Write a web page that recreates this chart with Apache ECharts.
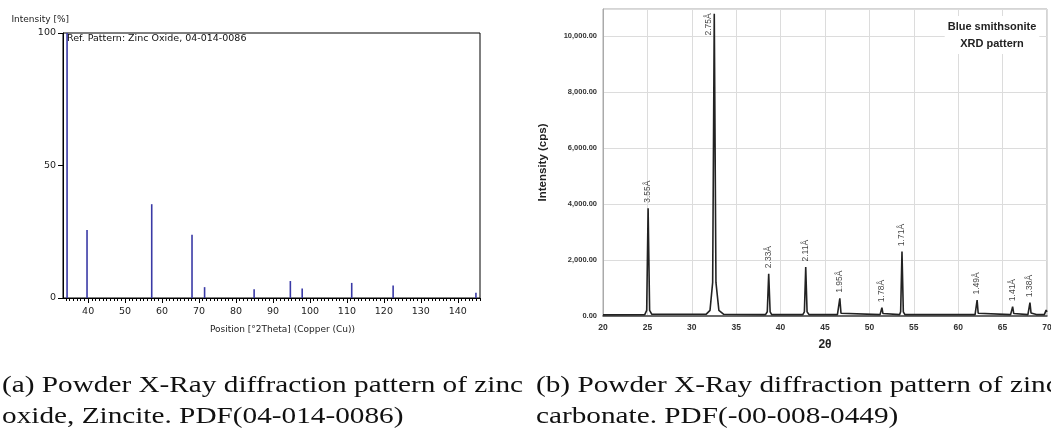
<!DOCTYPE html>
<html>
<head>
<meta charset="utf-8">
<script src="https://cdn.jsdelivr.net/npm/echarts@6/dist/echarts.min.js"></script>
<style>
  html, body { margin: 0; padding: 0; background: #fff; }
  #main { width: 1051px; height: 437px; }
</style>
</head>
<body>
<div id="main"></div>
<script>
// (a) ZnO reference stick pattern
var refPos = [34.3, 39.7, 57.2, 68.1, 71.5, 84.9, 94.7, 97.9, 111.3, 122.5, 144.9];
var refInt = [100, 25.7, 35.4, 23.9, 4.1, 3.3, 6.4, 3.6, 5.7, 4.7, 2.0];
var refTicks = [40, 50, 60, 70, 80, 90, 100, 110, 120, 130, 140];

// (b) smithsonite trace
var twoTheta = [20.0, 24.7, 24.92, 25.08, 25.25, 25.5, 31.6, 32.05, 32.35, 32.53, 32.72, 33.05, 33.6,
  38.3, 38.5, 38.66, 38.82, 39.0, 42.5, 42.68, 42.83, 42.98, 43.2, 46.4, 46.55, 46.67, 46.8, 47.0,
  51.2, 51.3, 51.41, 51.52, 51.7, 53.4, 53.52, 53.67, 53.82, 54.0, 60.9, 61.1, 61.3, 61.9, 62.02,
  62.13, 62.25, 62.4, 65.9, 66.02, 66.13, 66.25, 66.4, 67.85, 67.97, 68.08, 68.2, 68.4, 68.8, 69.0,
  69.2, 69.7, 69.9, 70.0];
var cps = [40, 50, 200, 3846, 200, 60, 60, 200, 1200, 10786, 1200, 200, 60,
  50, 150, 1511, 150, 50, 50, 150, 1750, 150, 50, 50, 100, 632, 100, 50,
  50, 90, 298, 90, 50, 50, 150, 2298, 150, 50, 50, 90, 50, 50, 100,
  571, 100, 50, 50, 90, 333, 90, 50, 50, 110, 476, 110, 50, 50, 110,
  50, 50, 210, 150];
var peakPos = [25.08, 32.53, 38.66, 42.83, 46.67, 51.41, 53.67, 62.13, 66.13, 68.08];
var peakTop = [3846, 10786, 1511, 1750, 632, 298, 2298, 571, 333, 476];
var peakD = ['3.55Å', '2.75Å', '2.33Å', '2.11Å', '1.95Å', '1.78Å', '1.71Å', '1.49Å', '1.41Å', '1.38Å'];

var captionA = ['(a) Powder X-Ray diffraction pattern of zinc', 'oxide, Zincite. PDF(04-014-0086)'];
var captionB = ['(b) Powder X-Ray diffraction pattern of zinc', 'carbonate. PDF(-00-008-0449)'];

var capFont = '23px "Liberation Serif", serif';
// squeeze the serif so the first caption line is as wide as in the picture
var ctx = document.createElement('canvas').getContext('2d');
ctx.font = capFont;
var capScale = 521 / ctx.measureText(captionA[0]).width;

var minorTicks = [];
for (var t = 34; t <= 146; t++) minorTicks.push(t);

var chart = echarts.init(document.getElementById('main'));

function capText(x, y, s) {
  return {
    type: 'text', x: x, y: y, scaleX: capScale,
    style: { text: s, font: capFont, fill: '#111', verticalAlign: 'middle' }
  };
}

var option = {
  animation: false,
  backgroundColor: '#fff',
  grid: [
    { left: 63, top: 33, width: 417, height: 265, show: true, borderColor: '#000', borderWidth: 1, outerBoundsMode: 'none' },
    { left: 603, top: 9, width: 444, height: 307, show: true, borderColor: '#aaa', borderWidth: 1, outerBoundsMode: 'none' }
  ],
  xAxis: [
    {
      type: 'value', gridIndex: 0, position: 'bottom', min: 33.2, max: 146,
      name: 'Position [°2Theta] (Copper (Cu))', nameLocation: 'middle', nameGap: 27,
      nameTextStyle: { fontFamily: 'DejaVu Sans', fontSize: 9, color: '#222', padding: [0, 0, 0, 22] },
      axisLine: { lineStyle: { color: '#000', width: 1 } },
      axisTick: { customValues: refTicks, length: 5, lineStyle: { color: '#000' } },
      axisLabel: { customValues: refTicks, margin: 9, fontFamily: 'DejaVu Sans', fontSize: 9.5, color: '#222' },
      splitLine: { show: false }
    },
    {
      type: 'value', gridIndex: 0, position: 'bottom', min: 33.2, max: 146,
      axisLine: { show: false },
      axisTick: { customValues: minorTicks, length: 3, lineStyle: { color: '#000' } },
      axisLabel: { show: false },
      splitLine: { show: false }
    },
    {
      type: 'value', gridIndex: 1, min: 20, max: 70, interval: 5,
      name: '2θ', nameLocation: 'middle', nameGap: 23,
      nameTextStyle: { fontFamily: 'Liberation Sans', fontWeight: 'bold', fontSize: 12, color: '#222' },
      axisLine: { lineStyle: { color: '#444', width: 1.5 } },
      axisTick: { show: false },
      axisLabel: { margin: 7, fontFamily: 'Liberation Sans', fontWeight: 'bold', fontSize: 8.5, color: '#333' },
      splitLine: { show: true, lineStyle: { color: '#dcdcdc', width: 1 } }
    }
  ],
  yAxis: [
    {
      type: 'value', gridIndex: 0, min: 0, max: 100, interval: 50,
      name: 'Intensity [%]', nameLocation: 'end', nameGap: 9,
      nameTextStyle: { fontFamily: 'DejaVu Sans', fontSize: 9, color: '#222', align: 'right', padding: [0, -6, 0, 0] },
      axisLine: { lineStyle: { color: '#000', width: 1 } },
      axisTick: { length: 5, lineStyle: { color: '#000' } },
      axisLabel: { margin: 7, fontFamily: 'DejaVu Sans', fontSize: 9.5, color: '#222' },
      splitLine: { show: false }
    },
    {
      type: 'value', gridIndex: 1, min: 0, max: 10960, interval: 2000,
      name: 'Intensity (cps)', nameLocation: 'middle', nameGap: 54,
      nameTextStyle: { fontFamily: 'Liberation Sans', fontWeight: 'bold', fontSize: 11.5, color: '#222' },
      axisLine: { lineStyle: { color: '#aaa', width: 1 } },
      axisTick: { show: false },
      axisLabel: {
        margin: 6, showMaxLabel: false, fontFamily: 'Liberation Sans', fontWeight: 'bold', fontSize: 7.5, color: '#333',
        formatter: function (v) { return v.toLocaleString('en-US', { minimumFractionDigits: 2, maximumFractionDigits: 2 }); }
      },
      splitLine: { show: true, lineStyle: { color: '#dcdcdc', width: 1 } }
    }
  ],
  series: [
    {
      type: 'bar', xAxisIndex: 0, yAxisIndex: 0, barWidth: 1.6,
      itemStyle: { color: '#3a3aa6' },
      data: refPos.map(function (p, i) { return [p, refInt[i]]; })
    },
    {
      type: 'line', xAxisIndex: 2, yAxisIndex: 1, showSymbol: false,
      lineStyle: { color: '#222', width: 1.6 },
      data: twoTheta.map(function (x, i) { return [x, cps[i]]; })
    },
    {
      type: 'scatter', xAxisIndex: 2, yAxisIndex: 1, symbolSize: 1,
      itemStyle: { color: 'transparent' },
      label: {
        show: true, position: 'top', distance: 5, rotate: 90, align: 'left', verticalAlign: 'middle',
        fontFamily: 'Liberation Sans', fontSize: 8.5, color: '#111',
        formatter: function (p) { return p.data.name; }
      },
      data: peakPos.map(function (x, i) {
        var d = { name: peakD[i], value: [x, peakTop[i]] };
        if (i === 1) d.label = { align: 'right', distance: 0, offset: [0, -6] };
        return d;
      })
    }
  ],
  graphic: [
    {
      type: 'text', x: 67, y: 34, z: 100,
      style: { text: 'Ref. Pattern: Zinc Oxide, 04-014-0086', font: '9.5px "DejaVu Sans"', fill: '#111' }
    },
    {
      type: 'text', x: 992, y: 16, z: 100,
      style: {
        text: 'Blue smithsonite\nXRD pattern', font: 'bold 11px "Liberation Sans"', fill: '#222',
        align: 'center', lineHeight: 17, backgroundColor: '#fff', padding: [2, 3, 2, 3]
      }
    },
    capText(2, 386, captionA[0]),
    capText(2, 417, captionA[1]),
    capText(536, 386, captionB[0]),
    capText(536, 417, captionB[1])
  ]
};

chart.setOption(option);
</script>
</body>
</html>
